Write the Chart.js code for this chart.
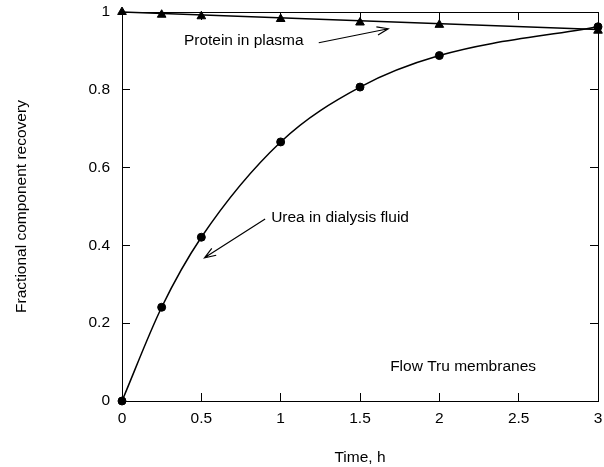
<!DOCTYPE html>
<html>
<head>
<meta charset="utf-8">
<script src="https://cdn.jsdelivr.net/npm/chart.js@4.4.0/dist/chart.umd.min.js"></script>
<style>
    html, body { margin: 0; padding: 0; background: #fff; }
    #wrap { width: 604px; height: 467px; }
</style>
</head>
<body>
<div id="wrap"><canvas id="chart" width="604" height="467"></canvas></div>
<script>
// data
const timeUrea = [0, 0.25, 0.5, 1, 1.5, 2, 3];
const ureaRecovery = [0, 0.241, 0.421, 0.666, 0.807, 0.888, 0.962];
const timeProtein = [0, 0.25, 0.5, 1, 1.5, 2, 3];
const proteinRecovery = [1, 0.993, 0.989, 0.982, 0.973, 0.967, 0.952];
const proteinFitTime = [0, 3];
const proteinFitRecovery = [1, 0.955];
const xTickLabels = ['0', '0.5', '1', '1.5', '2', '2.5', '3'];
const yTickLabels = ['0', '0.2', '0.4', '0.6', '0.8', '1'];

// annotations, in data units
const notes = [
    { text: 'Protein in plasma', x: 0.39, y: 0.925 },
    { text: 'Urea in dialysis fluid', x: 0.94, y: 0.472 },
    { text: 'Flow Tru membranes', x: 1.69, y: 0.087 }
];
const arrows = [
    { from: [1.24, 0.921], to: [1.678, 0.957] },
    { from: [0.902, 0.468], to: [0.52, 0.368] }
];

const FONT = { family: '"Liberation Sans", Arial, sans-serif', size: 15.5 };
const pts = (xs, ys) => xs.map((x, i) => ({ x: x, y: ys[i] }));

const annotate = {
    id: 'annotate',
    afterDatasetsDraw(chart) {
        const ctx = chart.ctx;
        const sx = chart.scales.x, sy = chart.scales.y;
        ctx.save();
        ctx.fillStyle = '#000';
        ctx.strokeStyle = '#000';
        ctx.lineWidth = 1.2;
        ctx.font = FONT.size + 'px ' + FONT.family;
        ctx.textAlign = 'left';
        ctx.textBaseline = 'middle';
        notes.forEach(n => ctx.fillText(n.text, sx.getPixelForValue(n.x), sy.getPixelForValue(n.y)));
        arrows.forEach(a => {
            const x1 = sx.getPixelForValue(a.from[0]), y1 = sy.getPixelForValue(a.from[1]);
            const x2 = sx.getPixelForValue(a.to[0]), y2 = sy.getPixelForValue(a.to[1]);
            const ang = Math.atan2(y2 - y1, x2 - x1);
            const head = 12, spread = 0.35;
            ctx.beginPath();
            ctx.moveTo(x1, y1);
            ctx.lineTo(x2, y2);
            ctx.moveTo(x2 - head * Math.cos(ang - spread), y2 - head * Math.sin(ang - spread));
            ctx.lineTo(x2, y2);
            ctx.lineTo(x2 - head * Math.cos(ang + spread), y2 - head * Math.sin(ang + spread));
            ctx.stroke();
        });
        ctx.restore();
    }
};

const gridOpts = { drawOnChartArea: false, tickLength: -8, color: '#000', tickColor: '#000', lineWidth: 1 };
const borderOpts = { color: '#000', width: 1 };

new Chart(document.getElementById('chart'), {
    type: 'scatter',
    data: {
        datasets: [
            {
                label: 'Urea in dialysis fluid',
                data: pts(timeUrea, ureaRecovery),
                showLine: true,
                cubicInterpolationMode: 'monotone',
                borderColor: '#000',
                backgroundColor: '#000',
                borderWidth: 1.5,
                pointStyle: 'circle',
                pointRadius: 4,
                pointBorderWidth: 1,
                clip: false
            },
            {
                label: 'Protein fit',
                data: pts(proteinFitTime, proteinFitRecovery),
                showLine: true,
                borderColor: '#000',
                borderWidth: 1.5,
                pointRadius: 0,
                clip: false
            },
            {
                label: 'Protein in plasma',
                data: pts(timeProtein, proteinRecovery),
                showLine: false,
                borderColor: '#000',
                backgroundColor: '#000',
                pointStyle: 'triangle',
                pointRadius: 5,
                clip: false
            }
        ]
    },
    options: {
        responsive: false,
        animation: false,
        devicePixelRatio: 1,
        layout: { padding: 0 },
        plugins: { legend: { display: false }, tooltip: { enabled: false } },
        scales: {
            x: {
                type: 'linear', position: 'bottom', min: 0, max: 3,
                ticks: { stepSize: 0.5, padding: 16.7, color: '#000', font: FONT, maxRotation: 0,
                    callback: (v, i) => xTickLabels[i] },
                grid: gridOpts, border: borderOpts,
                title: { display: true, text: 'Time, h', color: '#000', font: FONT, padding: { top: 0, bottom: 0 } },
                afterFit: s => { s.height = 66; s.paddingLeft = 0; s.paddingRight = 0; }
            },
            x2: {
                type: 'linear', position: 'top', min: 0, max: 3,
                ticks: { stepSize: 0.5, display: false },
                grid: gridOpts, border: borderOpts,
                afterFit: s => { s.height = 12; s.paddingLeft = 0; s.paddingRight = 0; }
            },
            y: {
                type: 'linear', position: 'left', min: 0, max: 1,
                ticks: { stepSize: 0.2, padding: 20, color: '#000', font: FONT,
                    callback: (v, i) => yTickLabels[i] },
                grid: gridOpts, border: borderOpts,
                title: { display: true, text: 'Fractional component recovery', color: '#000', font: FONT,
                    padding: { top: 12.7, bottom: 0 } },
                afterFit: s => { s.width = 122; s.paddingTop = 0; s.paddingBottom = 0; }
            },
            y2: {
                type: 'linear', position: 'right', min: 0, max: 1,
                ticks: { stepSize: 0.2, display: false },
                grid: gridOpts, border: borderOpts,
                afterFit: s => { s.width = 3; s.paddingTop = 0; s.paddingBottom = 0; }
            }
        }
    },
    plugins: [annotate]
});
</script>
</body>
</html>
